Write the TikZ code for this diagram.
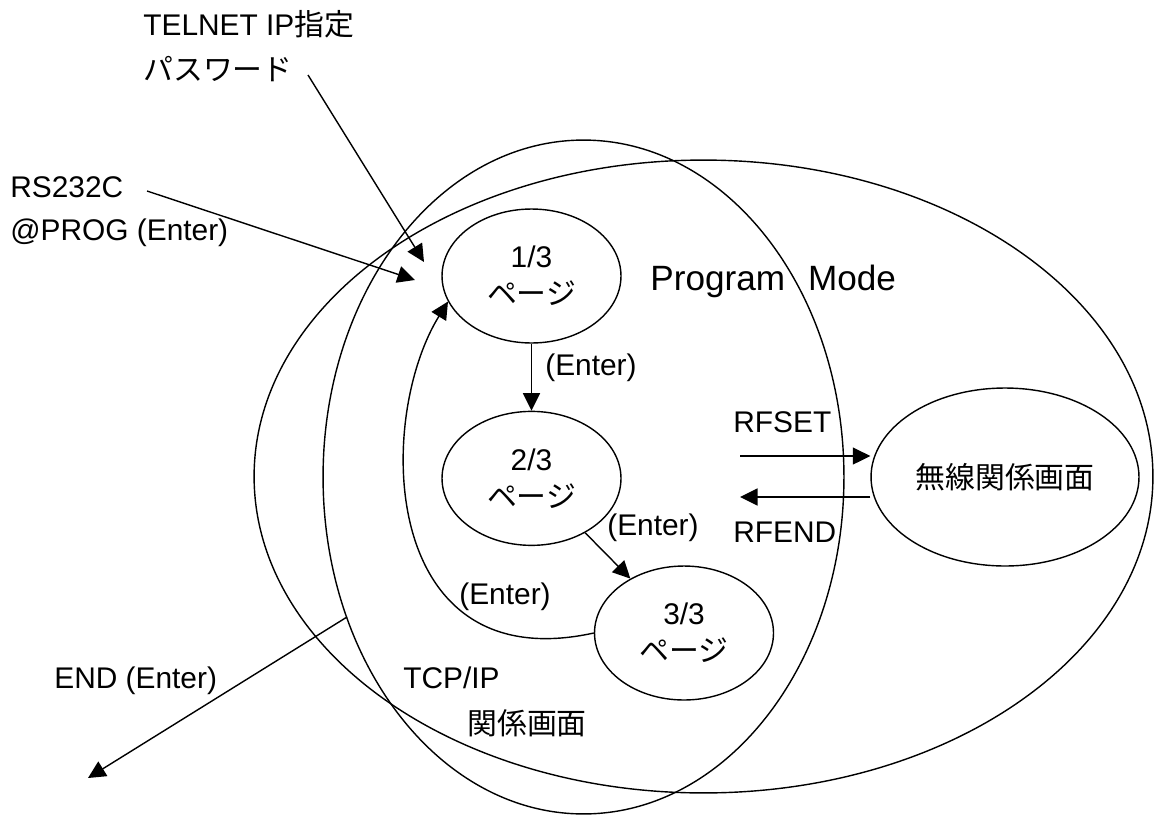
\documentclass[tikz,border=0pt]{standalone}
\usepackage{fontspec}
\setmainfont{Liberation Sans}
\newfontfamily\jpfont{Noto Sans CJK JP}
\usetikzlibrary{positioning,arrows.meta,shapes}
\tikzstyle{pgell}=[ellipse, draw=black, line width=0.8pt, minimum width=3.58cm,
                   minimum height=2.68cm, inner sep=0pt, align=center,
                   font=\fontsize{17}{21}\selectfont]
\tikzstyle{areaell}=[ellipse, draw=black, line width=0.8pt, inner sep=0pt]
\tikzstyle{lbl}=[inner sep=0pt, font=\fontsize{17}{20}\selectfont]
\tikzstyle{parr}=[-{Triangle[length=3.5mm,width=3.4mm]}, line width=0.8pt]
\begin{document}
\begin{tikzpicture}[x=0.02cm, y=-0.02cm]
\useasboundingbox (0,0) rectangle (1155,815);

\node (PMODE) [areaell, minimum width=17.98cm, minimum height=12.66cm] at (703.5,476.5) {};
\node (TCPIP) [areaell, minimum width=10.42cm, minimum height=13.48cm] at (583.5,477) {};

\node (PG1) [pgell] at (531.5,276) {1/3\\{\jpfont ページ}};
\node (PG2) [pgell, below=13.4mm of PG1] {2/3\\{\jpfont ページ}};
\node (PG3) [pgell] at (684,633) {3/3\\{\jpfont ページ}};
\node (RADIO) [areaell, minimum width=5.36cm, minimum height=3.56cm,
  font=\fontsize{17}{20}\selectfont\jpfont] at (1005,477) {無線関係画面};

\node (TELNET) [lbl, anchor=base west] at (143,35) {TELNET IP{\jpfont 指定}};
\node (PASSWD) [lbl, anchor=base west] at (143,80) {\jpfont パスワード};
\node (RS) [lbl, anchor=base west] at (10,197) {RS232C};
\node (PROG) [lbl, anchor=base west] at (10,240) {@PROG (Enter)};
\node (MODE) [lbl, font=\fontsize{20}{24}\selectfont, anchor=base west] at (650,290) {Program\hspace{4.6mm}Mode};
\node (ENT12) [lbl, anchor=west] at (545,368) {(Enter)};
\node (ENT23) [lbl, anchor=west] at (607,528) {(Enter)};
\node (ENT31) [lbl] at (505,597) {(Enter)};
\node (RFSET) [lbl, anchor=west] at (733,422) {RFSET};
\node (RFEND) [lbl, anchor=west] at (733,532) {RFEND};
\node (ENDL) [lbl, anchor=west] at (54,681) {END (Enter)};
\node (TCPL1) [lbl, anchor=west] at (403,678) {TCP/IP};
\node (TCPL2) [lbl, anchor=west, font=\fontsize{17}{20}\selectfont\jpfont] at (467,723) {関係画面};

\coordinate (telnetstart) at (308,75);
\coordinate (telnettip) at (424,262);
\coordinate (rsstart) at (147,191);
\coordinate (rstip) at (415,280);
\coordinate (endstart) at (347,617);
\coordinate (endtip) at (88,778);
\coordinate (rfsetstart) at (740,456);
\coordinate (rfendtip) at (740,497);

\draw[parr] (telnetstart) -- (telnettip);
\draw[parr] (rsstart) -- (rstip);
\draw[parr] (PG1) -- (PG2);
\draw[parr] (PG2) -- (PG3);
\draw[parr] (PG3.west) .. controls (380,680) and (375,420) .. (PG1.197);
\draw[parr] (rfsetstart) -- (rfsetstart -| RADIO.west);
\draw[parr] (rfendtip -| RADIO.west) -- (rfendtip);
\draw[parr] (endstart) -- (endtip);

\end{tikzpicture}
\end{document}
